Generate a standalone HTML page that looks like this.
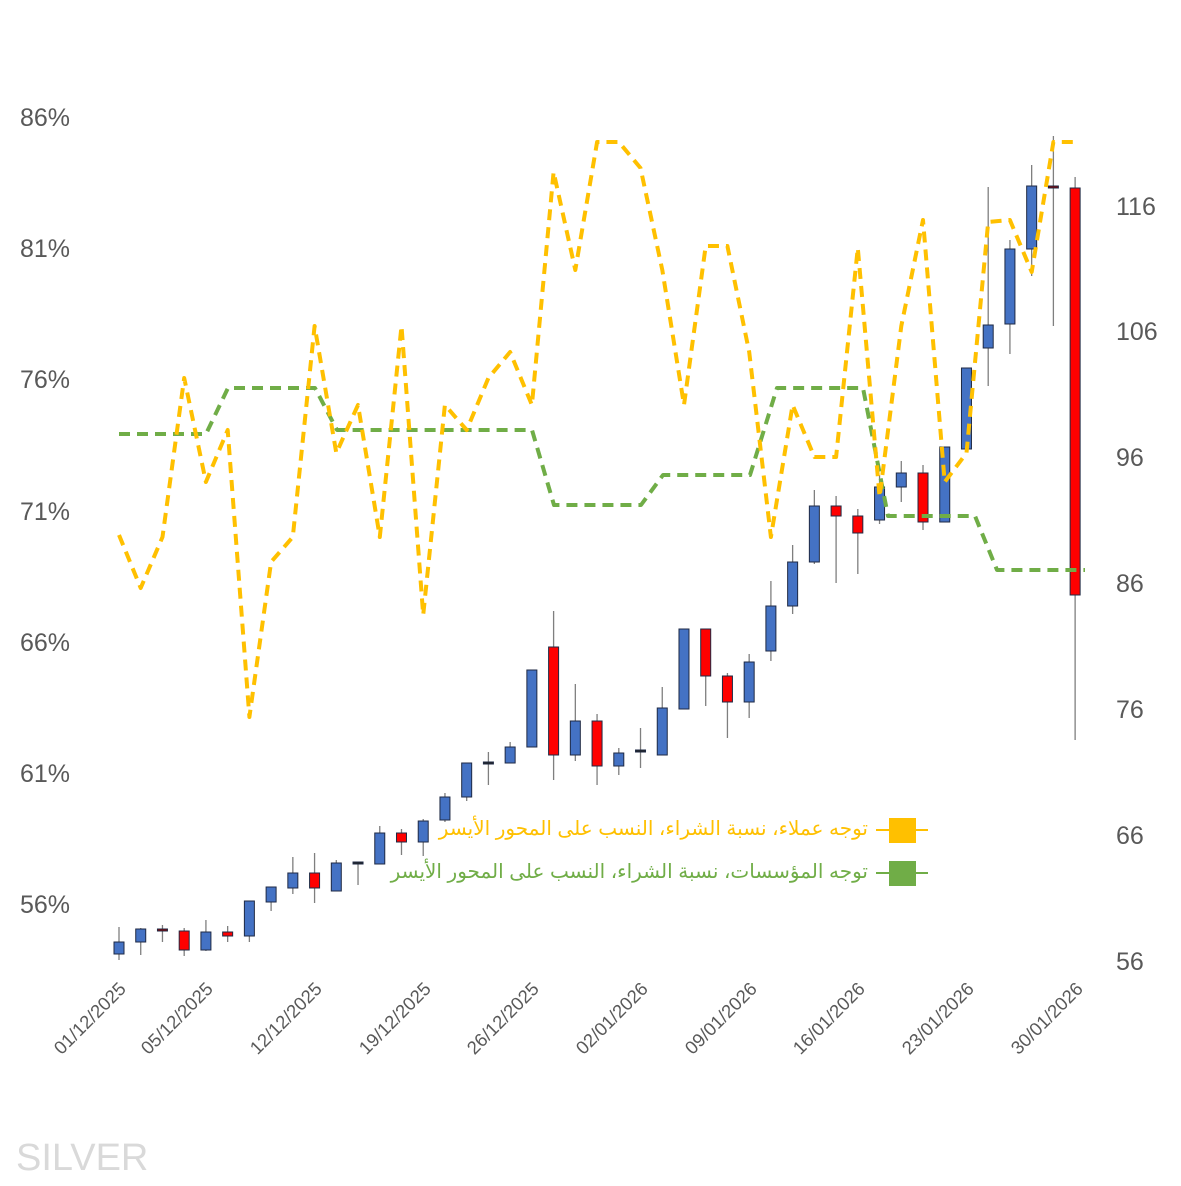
<!DOCTYPE html>
<html><head><meta charset="utf-8"><style>
html,body{margin:0;padding:0;background:#fff;}
svg text{font-family:"Liberation Sans","DejaVu Sans",sans-serif;}
</style></head><body>
<svg id="s" width="1181" height="1181" viewBox="0 0 1181 1181" xmlns="http://www.w3.org/2000/svg">
<rect width="1181" height="1181" fill="#fff"/>
<g fill="#595959" font-size="25">
<text x="20" y="126">86%</text>
<text x="20" y="257">81%</text>
<text x="20" y="388">76%</text>
<text x="20" y="520">71%</text>
<text x="20" y="651">66%</text>
<text x="20" y="782">61%</text>
<text x="20" y="913">56%</text>
<text x="1116" y="215">116</text>
<text x="1116" y="340">106</text>
<text x="1116" y="466">96</text>
<text x="1116" y="592">86</text>
<text x="1116" y="718">76</text>
<text x="1116" y="844">66</text>
<text x="1116" y="970">56</text>
</g>
<g id="cand"></g>
<g id="lines"></g>
<g fill="#595959" font-size="18.5" text-anchor="end">
<text transform="translate(127,990) rotate(-45)">01/12/2025</text>
<text transform="translate(214,990) rotate(-45)">05/12/2025</text>
<text transform="translate(323,990) rotate(-45)">12/12/2025</text>
<text transform="translate(432,990) rotate(-45)">19/12/2025</text>
<text transform="translate(540,990) rotate(-45)">26/12/2025</text>
<text transform="translate(649,990) rotate(-45)">02/01/2026</text>
<text transform="translate(758,990) rotate(-45)">09/01/2026</text>
<text transform="translate(866,990) rotate(-45)">16/01/2026</text>
<text transform="translate(975,990) rotate(-45)">23/01/2026</text>
<text transform="translate(1084,990) rotate(-45)">30/01/2026</text>
</g>
<line x1="876" y1="830" x2="928" y2="830" stroke="#FFC000" stroke-width="2"/>
<rect x="889" y="818" width="27" height="25" fill="#FFC000"/>
<line x1="876" y1="873" x2="928" y2="873" stroke="#70AD47" stroke-width="2"/>
<rect x="889" y="861" width="27" height="25" fill="#70AD47"/>
<text x="868" y="835" font-size="20" fill="#FFC000" text-anchor="end">توجه عملاء، نسبة الشراء، النسب على المحور الأيسر</text>
<text x="868" y="878" font-size="20" fill="#70AD47" text-anchor="end">توجه المؤسسات، نسبة الشراء، النسب على المحور الأيسر</text>
<text x="16" y="1170" font-size="38" fill="#d9d9d9">SILVER</text>
</svg>
<script>
var C=[[942,954,927,960,'b'],[929,942,928,955,'b'],[929,931,925,942,'d'],[931,950,928,956,'r'],[932,950,920,951,'b'],[932,936,926,942,'r'],[901,936,901,942,'b'],[887,902,887,911,'b'],[873,888,857,894,'b'],[873,888,853,903,'r'],[863,891,860,891,'b'],[862,864,863,885,'k'],[833,864,826,864,'b'],[833,842,829,855,'r'],[821,842,819,856,'b'],[797,820,793,822,'b'],[763,797,763,801,'b'],[762,764,752,785,'k'],[747,763,742,763,'b'],[670,747,670,747,'b'],[647,755,611,780,'r'],[721,755,684,761,'b'],[721,766,714,785,'r'],[753,766,748,775,'b'],[750,752,728,768,'k'],[708,755,687,755,'b'],[629,709,629,709,'b'],[629,676,629,706,'r'],[676,702,673,738,'r'],[662,702,654,718,'b'],[606,651,581,661,'b'],[562,606,545,614,'b'],[506,562,490,564,'b'],[506,516,496,583,'r'],[516,533,509,574,'r'],[487,520,475,524,'b'],[473,487,461,502,'b'],[473,522,465,530,'r'],[447,522,447,522,'b'],[368,449,368,450,'b'],[325,348,187,386,'b'],[249,324,240,354,'b'],[186,249,165,276,'b'],[186,188,136,326,'d'],[188,595,177,740,'r']];
var Y=[535,588,537,378,482,430,717,562,537,326,453,405,537,326,615,405,430,378,352,405,172,270,142,142,168,270,405,246,246,352,537,405,457,457,248,497,326,220,482,453,222,220,272,142,142];
var h='';
function X(i){return 119+i*21.73;}
C.forEach(function(c,i){var x=X(i);
h+='<line x1="'+x+'" y1="'+c[2]+'" x2="'+x+'" y2="'+c[3]+'" stroke="#7f7f7f" stroke-width="1.3"/>';
var f=c[4]=='b'?'#4472C4':c[4]=='r'?'#FF0000':c[4]=='d'?'#8B0000':'#222';
h+='<rect x="'+(x-5)+'" y="'+c[0]+'" width="10" height="'+Math.max(2,c[1]-c[0])+'" fill="'+f+'" stroke="#1f2a44" stroke-width="1"/>';});
document.getElementById('cand').innerHTML=h;
var p=Y.map(function(y,i){return X(i).toFixed(1)+','+y}).join(' ');
p+=' 1078,142';
var g='119,434 206,434 228,388 315,388 337,430 532,430 554,505 641,505 663,475 750,475 777,388 863,388 888,516 975,516 997,570 1085,570';
document.getElementById('lines').innerHTML='<polyline points="'+g+'" fill="none" stroke="#70AD47" stroke-width="4" stroke-dasharray="11,7" stroke-linejoin="round"/><polyline points="'+p+'" fill="none" stroke="#FFC000" stroke-width="4" stroke-dasharray="11,7" stroke-linejoin="round"/>';
</script>
</body></html>
